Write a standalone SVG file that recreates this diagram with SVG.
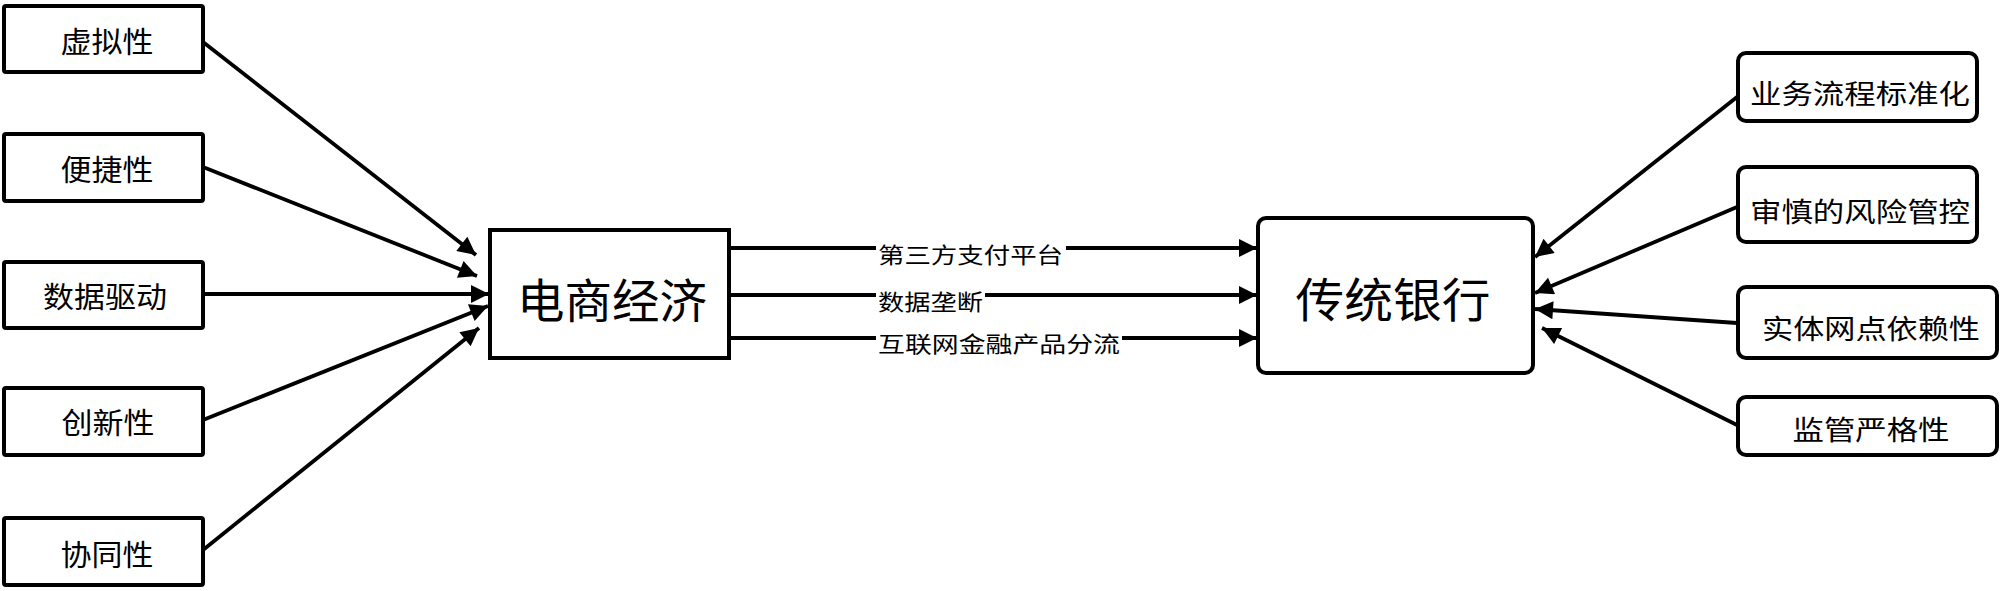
<svg xmlns="http://www.w3.org/2000/svg" width="2000" height="591" viewBox="0 0 2000 591">
<defs>
<marker id="arr" viewBox="0 0 10 10" refX="10" refY="5" markerWidth="27" markerHeight="18" markerUnits="userSpaceOnUse" orient="auto">
<path d="M0,0 L10,5 L0,10 z" fill="#000"/>
</marker>
<style>
.box{fill:#fff;stroke:#000;stroke-width:4}
.ln{stroke:#000;stroke-width:3.8;fill:none;marker-end:url(#arr)}
.t{font-family:"Noto Sans CJK SC","Noto Sans",sans-serif;fill:#000;text-anchor:middle;dominant-baseline:central}
.ts{font-size:29px}
.tr{font-size:27px}
.tb{font-size:47px}
.tl{font-size:22px;text-anchor:start}
.bg{fill:#fff}
</style>
</defs>
<rect width="2000" height="591" fill="#fff"/>
<g id="connectors">
<line class="ln" x1="203" y1="42" x2="476" y2="255"/>
<line class="ln" x1="203" y1="167" x2="477" y2="276"/>
<line class="ln" x1="203" y1="294" x2="489" y2="294"/>
<line class="ln" x1="203" y1="420" x2="488" y2="306"/>
<line class="ln" x1="203" y1="550" x2="479" y2="328"/>
<line class="ln" x1="729" y1="248" x2="1257" y2="248"/>
<line class="ln" x1="729" y1="295" x2="1257" y2="295"/>
<line class="ln" x1="729" y1="338" x2="1257" y2="338"/>
<rect class="bg" x="876" y="238" width="190" height="26"/>
<rect class="bg" x="876" y="285" width="109" height="28"/>
<rect class="bg" x="876" y="329" width="246" height="26"/>
<text class="t tl" x="878" y="253" textLength="185" lengthAdjust="spacingAndGlyphs">第三方支付平台</text>
<text class="t tl" x="878" y="300" textLength="105" lengthAdjust="spacingAndGlyphs">数据垄断</text>
<text class="t tl" x="878" y="342" textLength="242" lengthAdjust="spacingAndGlyphs">互联网金融产品分流</text>
<line class="ln" x1="1737" y1="97" x2="1535" y2="257"/>
<line class="ln" x1="1737" y1="207" x2="1535" y2="293"/>
<line class="ln" x1="1737" y1="323" x2="1535" y2="309"/>
<line class="ln" x1="1737" y1="425" x2="1542" y2="328"/>
</g>
<g id="n-xuni"><rect class="box" x="4" y="6" width="199" height="66" rx="2"/><text class="t ts" x="107" y="40" textLength="93" lengthAdjust="spacingAndGlyphs">虚拟性</text></g>
<g id="n-bianjie"><rect class="box" x="4" y="134" width="199" height="67" rx="2"/><text class="t ts" x="107" y="168" textLength="93" lengthAdjust="spacingAndGlyphs">便捷性</text></g>
<g id="n-shuju"><rect class="box" x="4" y="262" width="199" height="66" rx="2"/><text class="t ts" x="105" y="295" textLength="124" lengthAdjust="spacingAndGlyphs">数据驱动</text></g>
<g id="n-chuangxin"><rect class="box" x="4" y="388" width="199" height="67" rx="2"/><text class="t ts" x="108" y="421" textLength="93" lengthAdjust="spacingAndGlyphs">创新性</text></g>
<g id="n-xietong"><rect class="box" x="4" y="518" width="199" height="67" rx="2"/><text class="t ts" x="107" y="553" textLength="93" lengthAdjust="spacingAndGlyphs">协同性</text></g>
<g id="n-dianshang"><rect class="box" x="490" y="230" width="239" height="128"/><text class="t tb" x="612" y="297" textLength="190" lengthAdjust="spacingAndGlyphs">电商经济</text></g>
<g id="n-yinhang"><rect class="box" x="1258" y="218" width="275" height="155" rx="8"/><text class="t tb" x="1393" y="296" textLength="195" lengthAdjust="spacingAndGlyphs">传统银行</text></g>
<g id="n-yewu"><rect class="box" x="1738" y="53" width="239" height="68" rx="8"/><text class="t tr" x="1860" y="92" textLength="220" lengthAdjust="spacingAndGlyphs">业务流程标准化</text></g>
<g id="n-shenshen"><rect class="box" x="1738" y="167" width="239" height="75" rx="8"/><text class="t tr" x="1860" y="210" textLength="220" lengthAdjust="spacingAndGlyphs">审慎的风险管控</text></g>
<g id="n-shiti"><rect class="box" x="1738" y="287" width="259" height="71" rx="8"/><text class="t tr" x="1871" y="327" textLength="218" lengthAdjust="spacingAndGlyphs">实体网点依赖性</text></g>
<g id="n-jianguan"><rect class="box" x="1738" y="397" width="259" height="58" rx="8"/><text class="t tr" x="1871" y="428" textLength="157" lengthAdjust="spacingAndGlyphs">监管严格性</text></g>
</svg>
